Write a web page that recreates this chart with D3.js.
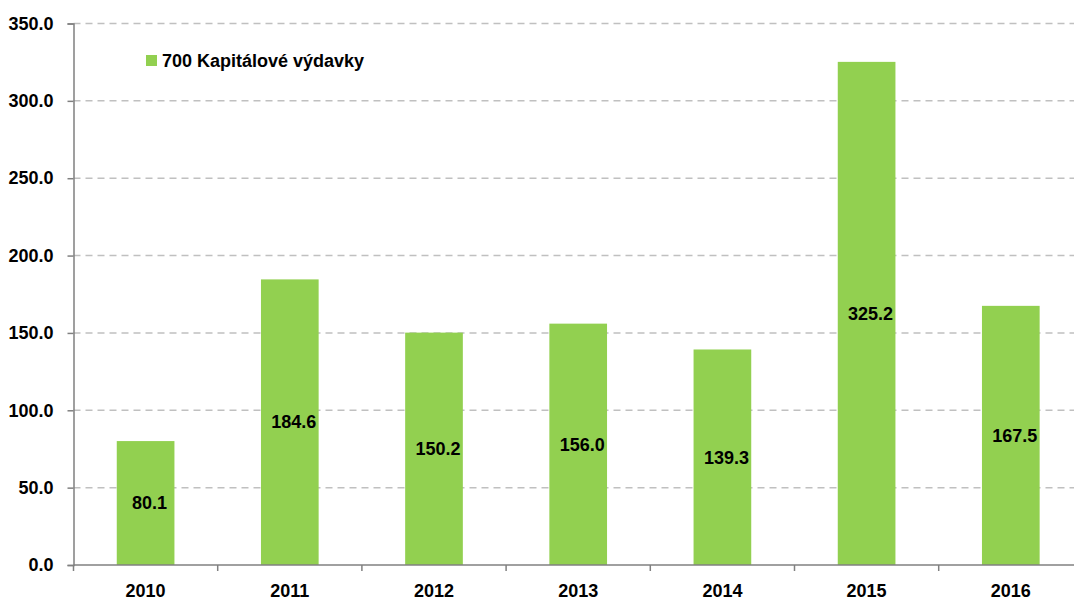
<!DOCTYPE html>
<html>
<head>
<meta charset="utf-8">
<script src="https://cdn.jsdelivr.net/npm/d3@7"></script>
<style>
  body { margin: 0; background: #fff; }
  svg { display: block; font-family: "Liberation Sans Narrow", "Arial Narrow", "Liberation Sans", Arial, sans-serif; font-weight: bold; }
</style>
</head>
<body>
<svg id="chart"></svg>
<script>
const years = ["2010", "2011", "2012", "2013", "2014", "2015", "2016"];
const values = [80.1, 184.6, 150.2, 156.0, 139.3, 325.2, 167.5];
const yTicks = [0, 50, 100, 150, 200, 250, 300, 350];
const seriesName = "700 Kapitálové výdavky";

const width = 1074, height = 601;
const plotLeft = 73.5, plotTop = 23.5, plotBottom = 565;
const bandW = 144.2;

const svg = d3.select("#chart").attr("width", width).attr("height", height);

const x = d3.scaleBand()
  .domain(years)
  .range([plotLeft, plotLeft + bandW * years.length])
  .paddingInner(0.6)
  .paddingOuter(0.3);

const y = d3.scaleLinear().domain([0, 350]).range([plotBottom, plotTop]);

// gridlines
svg.append("g")
  .selectAll("line")
  .data(yTicks.filter(d => d > 0))
  .enter()
  .append("line")
  .attr("x1", plotLeft)
  .attr("x2", width)
  .attr("y1", d => y(d))
  .attr("y2", d => y(d))
  .attr("stroke", "#c0c0c0")
  .attr("stroke-width", 1.5)
  .attr("stroke-dasharray", "7,5");

// bars
svg.append("g")
  .selectAll("rect")
  .data(values)
  .enter()
  .append("rect")
  .attr("x", (d, i) => x(years[i]))
  .attr("y", d => y(d))
  .attr("width", x.bandwidth())
  .attr("height", d => plotBottom - y(d))
  .attr("fill", "#92d050");

// value labels
svg.append("g")
  .selectAll("text")
  .data(values)
  .enter()
  .append("text")
  .attr("x", (d, i) => x(years[i]) + x.bandwidth() / 2 + 4)
  .attr("y", d => (y(d) + plotBottom) / 2)
  .attr("dy", "0.35em")
  .attr("text-anchor", "middle")
  .attr("font-size", 18)
  .attr("fill", "#000")
  .text(d => d.toFixed(1));

// y axis
const yAxis = svg.append("g")
  .attr("transform", `translate(${plotLeft},0)`)
  .call(d3.axisLeft(y).tickValues(yTicks).tickFormat(d => d.toFixed(1)).tickSize(6).tickPadding(14));
yAxis.attr("font-family", null);
yAxis.select(".domain").attr("stroke", "#808080").attr("stroke-width", 1.5);
yAxis.selectAll(".tick line").attr("stroke", "#808080").attr("stroke-width", 1.5);
yAxis.selectAll(".tick text").attr("font-size", 18).attr("fill", "#000");

// x axis
const xAxis = svg.append("g")
  .attr("transform", `translate(0,${plotBottom})`)
  .call(d3.axisBottom(x).tickSize(0).tickPadding(19));
xAxis.attr("font-family", null);
xAxis.select(".domain").remove();
xAxis.append("line")
  .attr("x1", plotLeft).attr("x2", width)
  .attr("stroke", "#808080").attr("stroke-width", 1.5);
xAxis.selectAll(".catTick")
  .data(d3.range(years.length + 1))
  .enter()
  .append("line")
  .attr("x1", i => plotLeft + i * bandW)
  .attr("x2", i => plotLeft + i * bandW)
  .attr("y1", 0).attr("y2", 6)
  .attr("stroke", "#808080").attr("stroke-width", 1.5);
xAxis.selectAll(".tick text").attr("font-size", 18).attr("fill", "#000");

// legend
const legend = svg.append("g").attr("transform", "translate(146,55)");
legend.append("rect").attr("width", 11).attr("height", 11).attr("fill", "#92d050");
legend.append("text")
  .attr("x", 16).attr("y", 11.5)
  .attr("font-size", 18)
  .attr("fill", "#000")
  .text(seriesName);
</script>
</body>
</html>
